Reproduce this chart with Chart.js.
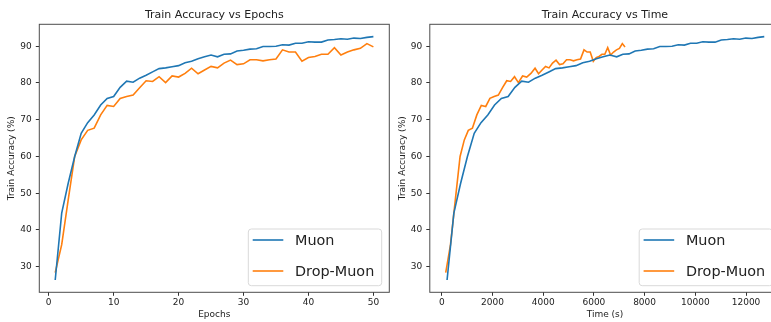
<!DOCTYPE html>
<html>
<head>
<meta charset="utf-8">
<script src="https://cdn.jsdelivr.net/npm/chart.js@4.4.0/dist/chart.umd.min.js"></script>
<style>
  html, body { margin: 0; padding: 0; background: #fff; overflow: hidden; width: 771px; height: 322px; }
  .box { position: absolute; top: 0; height: 322px; }
  #b1 { left: 0; width: 393px; }
  #b2 { left: 385px; width: 400px; }
</style>
</head>
<body>
<div class="box" id="b1"><canvas id="epochChart"></canvas></div>
<div class="box" id="b2"><canvas id="timeChart"></canvas></div>
<script>
const epochs = [1,2,3,4,5,6,7,8,9,10,11,12,13,14,15,16,17,18,19,20,21,22,23,24,25,
  26,27,28,29,30,31,32,33,34,35,36,37,38,39,40,41,42,43,44,45,46,47,48,49,50];

const muonAcc = [26.4,44.6,52.7,60.0,66.3,69.2,71.3,74.0,75.8,76.3,78.8,80.5,80.2,81.3,82.1,
  83.0,83.9,84.1,84.4,84.7,85.5,85.9,86.6,87.1,87.6,87.1,87.8,87.9,88.7,88.9,89.2,89.3,89.9,
  89.9,90.0,90.4,90.3,90.8,90.8,91.2,91.1,91.1,91.7,91.8,92.0,91.9,92.2,92.1,92.4,92.6];

const dropAcc = [28.4,36.0,48.2,60.0,64.5,67.1,67.7,71.3,73.9,73.6,75.8,76.3,76.7,78.7,80.6,
  80.4,81.7,80.1,81.9,81.6,82.6,84.0,82.5,83.5,84.5,84.1,85.4,86.2,85.0,85.2,86.3,86.3,86.0,
  86.3,86.5,89.0,88.4,88.4,85.9,86.9,87.2,87.8,87.8,89.6,87.6,88.4,89.0,89.4,90.7,89.8];

// elapsed time (s) at the end of each epoch
const muonTime = [210,478,745,1013,1281,1548,1816,2083,2351,2619,2886,3154,3422,3689,3957,
  4224,4492,4760,5027,5295,5562,5830,6098,6365,6633,6900,7143,7385,7628,7870,8113,8355,8598,
  8840,9083,9325,9568,9810,10053,10295,10538,10780,11023,11265,11508,11750,11993,12235,12478,12720];

const dropTime = [157,345,535,723,890,1047,1209,1384,1560,1735,1900,2066,2232,2398,2563,
  2716,2870,3023,3187,3351,3516,3680,3818,3956,4094,4232,4370,4508,4646,4783,4921,5059,5197,
  5335,5473,5611,5733,5855,5977,6091,6204,6318,6431,6545,6660,6776,6891,7007,7122,7228];

const accTicks = [30, 40, 50, 60, 70, 80, 90];
const epochTicks = [0, 10, 20, 30, 40, 50];
const timeTicks = [0, 2000, 4000, 6000, 8000, 10000, 12000];

const FONT = "'DejaVu Sans', sans-serif";
const INK = '#222';

// axes box + legend in the lower right corner, like matplotlib
const frameAndLegend = {
  id: 'frameAndLegend',
  afterDraw(chart) {
    const a = chart.chartArea, ctx = chart.ctx;
    ctx.save();
    ctx.strokeStyle = '#4d4d4d';
    ctx.lineWidth = 1;
    ctx.strokeRect(a.left, a.top, a.right - a.left, a.bottom - a.top);

    const w = 133.4, h = 56.7;
    const x = a.right - 7.6 - w, y = a.bottom - 6.6 - h;
    ctx.beginPath();
    ctx.roundRect(x, y, w, h, 3);
    ctx.fillStyle = 'rgba(255,255,255,0.8)';
    ctx.fill();
    ctx.strokeStyle = '#d9d9d9';
    ctx.stroke();
    ctx.font = '14.4px ' + FONT;
    ctx.textBaseline = 'middle';
    chart.data.datasets.forEach((ds, i) => {
      const ly = y + 11 + i * 31;
      ctx.strokeStyle = ds.borderColor;
      ctx.lineWidth = ds.borderWidth;
      ctx.beginPath();
      ctx.moveTo(x + 4.4, ly);
      ctx.lineTo(x + 35, ly);
      ctx.stroke();
      ctx.fillStyle = INK;
      ctx.fillText(ds.label, x + 46.7, ly + 1);
    });
    ctx.restore();
  }
};

function makeSeries(xs, ys) {
  return xs.map((x, i) => ({ x: x, y: ys[i] }));
}

function makeChart(id, title, xTitle, xs1, xs2, xMin, xMax, xTicks, yWidth, yTitlePad, padRight) {
  const config = {
    type: 'line',
    data: {
      datasets: [
        { label: 'Muon', data: makeSeries(xs1, muonAcc), borderColor: '#1f77b4', borderWidth: 1.6 },
        { label: 'Drop-Muon', data: makeSeries(xs2, dropAcc), borderColor: '#ff7f0e', borderWidth: 1.6 }
      ]
    },
    options: {
      responsive: true,
      maintainAspectRatio: false,
      animation: false,
      layout: { padding: { left: 0, right: padRight, top: 0, bottom: 0 } },
      elements: { point: { radius: 0 }, line: { tension: 0, fill: false } },
      plugins: {
        legend: { display: false },
        tooltip: { enabled: false },
        title: {
          display: true, text: title, fullSize: false, color: INK,
          font: { family: FONT, size: 11, weight: 'normal' },
          padding: { top: 8.4, bottom: 2.7 }
        }
      },
      scales: {
        x: {
          type: 'linear', min: xMin, max: xMax, bounds: 'data',
          afterBuildTicks: s => { s.ticks = xTicks.map(v => ({ value: v })); },
          afterFit: s => { s.height = 29.7; },
          grid: { drawOnChartArea: false, tickLength: 3.5, color: '#333' },
          border: { display: false },
          ticks: { font: { family: FONT, size: 9 }, color: INK, padding: 1.5, autoSkip: false, maxRotation: 0, callback: v => String(v) },
          title: { display: true, text: xTitle, color: INK, font: { family: FONT, size: 9 }, padding: { top: 0, bottom: 1.6 } }
        },
        y: {
          type: 'linear', min: 23.05, max: 95.95, bounds: 'data',
          afterBuildTicks: s => { s.ticks = accTicks.map(v => ({ value: v })); },
          afterFit: s => { s.width = yWidth; },
          grid: { drawOnChartArea: false, tickLength: 3.5, color: '#333' },
          border: { display: false },
          ticks: { font: { family: FONT, size: 9 }, color: INK, padding: 4.1, callback: v => String(v) },
          title: { display: true, text: 'Train Accuracy (%)', color: INK, font: { family: FONT, size: 9 }, padding: { top: yTitlePad, bottom: 0 } }
        }
      }
    },
    plugins: [frameAndLegend]
  };
  return new Chart(document.getElementById(id), config);
}

makeChart('epochChart', 'Train Accuracy vs Epochs', 'Epochs', epochs, epochs, -1.45, 52.45, epochTicks, 39.3, 6.3, 3.7);
makeChart('timeChart', 'Train Accuracy vs Time', 'Time (s)', muonTime, dropTime, -471, 13348, timeTicks, 44.8, 12.6, 4.8);
</script>
</body>
</html>
